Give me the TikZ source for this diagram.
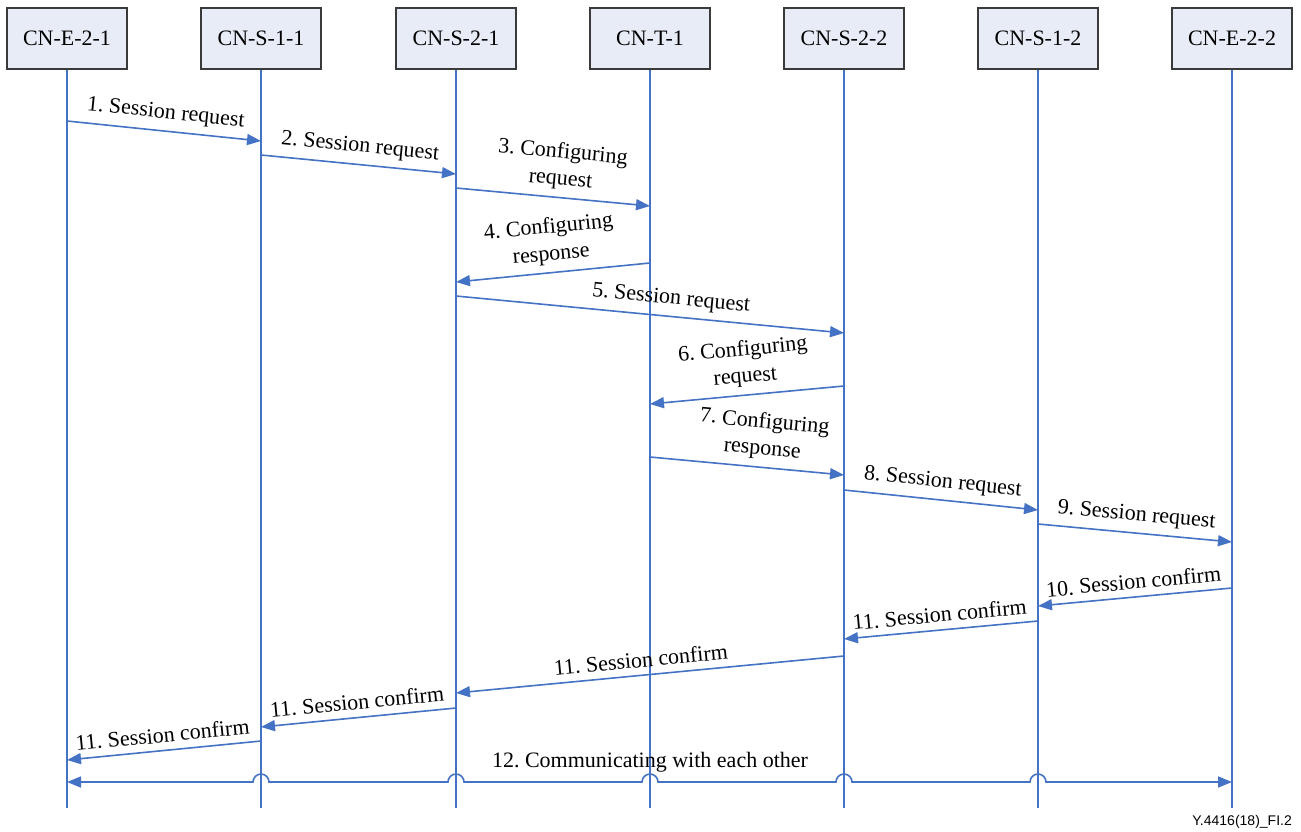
\documentclass[tikz,border=0pt]{standalone}
\usepackage{fontspec}
\setmainfont{Liberation Serif}
\newfontfamily\figsans{Liberation Sans}
\usetikzlibrary{arrows.meta}
\definecolor{msgblue}{HTML}{4472C4}
\definecolor{headfill}{HTML}{E8ECF6}
\definecolor{headdraw}{HTML}{3A3A3A}
\frenchspacing
\begin{document}
\begin{tikzpicture}[x=1pt,y=-1pt,
  every node/.style={font=\fontsize{22}{27}\selectfont},
  head/.style={draw=headdraw,fill=headfill,line width=1.6pt,minimum width=120pt,minimum height=61pt,inner sep=0pt},
  life/.style={draw=msgblue,line width=1.6pt},
  msg/.style={draw=msgblue,line width=1.6pt,-{Triangle[length=14pt,width=11pt]}},
  lbl/.style={sloped,above=7pt,inner sep=0pt,align=center},
]
\useasboundingbox (0,0) rectangle (1301,831);

% entity heads
\node[head] (e21) at (67,38.5) {CN-E-2-1};
\node[head] (s11) at (261,38.5) {CN-S-1-1};
\node[head] (s21) at (456,38.5) {CN-S-2-1};
\node[head] (t1)  at (650,38.5) {CN-T-1};
\node[head] (s22) at (844,38.5) {CN-S-2-2};
\node[head] (s12) at (1038,38.5) {CN-S-1-2};
\node[head] (e22) at (1232,38.5) {CN-E-2-2};

% lifelines
\foreach \n in {e21,s11,s21,t1,s22,s12,e22}{
  \coordinate (\n-end) at (\n.south |- 0,808);
  \draw[life] (\n.south) -- (\n-end);
}

% messages
\draw[msg] (e21 |- 0,121) -- node[lbl] (l1) {1. Session request} (s11 |- 0,141);
\draw[msg] (s11 |- 0,155) -- node[lbl] (l2) {2. Session request} (s21 |- 0,174);
\draw[msg] (s21 |- 0,188) -- node[lbl,pos=0.53] (l3) {3. Configuring\\request} (t1 |- 0,206);
\draw[msg] (t1 |- 0,263) -- node[lbl] (l4) {4. Configuring\\response} (s21 |- 0,282);
\draw[msg] (s21 |- 0,296) -- node[lbl,pos=0.55] (l5) {5. Session request} (s22 |- 0,333);
\draw[msg] (s22 |- 0,386) -- node[lbl] (l6) {6. Configuring\\request} (t1 |- 0,404);
\draw[msg] (t1 |- 0,457) -- node[lbl,pos=0.57] (l7) {7. Configuring\\response} (s22 |- 0,475);
\draw[msg] (s22 |- 0,490) -- node[lbl] (l8) {8. Session request} (s12 |- 0,510);
\draw[msg] (s12 |- 0,524) -- node[lbl] (l9) {9. Session request} (e22 |- 0,542);
\draw[msg] (e22 |- 0,588) -- node[lbl] (l10) {10. Session confirm} (s12 |- 0,606);
\draw[msg] (s12 |- 0,621) -- node[lbl] (l11a) {11. Session confirm} (s22 |- 0,639);
\draw[msg] (s22 |- 0,656) -- node[lbl,pos=0.52] (l11b) {11. Session confirm} (s21 |- 0,693);
\draw[msg] (s21 |- 0,708) -- node[lbl] (l11c) {11. Session confirm} (s11 |- 0,727);
\draw[msg] (s11 |- 0,741) -- node[lbl] (l11d) {11. Session confirm} (e21 |- 0,760);

% two-way link with hops over the inner lifelines
\foreach \n in {s11,s21,t1,s22,s12}{
  \coordinate (\n-hop) at (\n |- 0,782);
}
\draw[life,{Triangle[length=14pt,width=11pt]}-{Triangle[length=14pt,width=11pt]}]
  (e21 |- 0,782)
  -- ([xshift=-8pt]s11-hop) arc[start angle=180,end angle=360,radius=8]
  -- ([xshift=-8pt]s21-hop) arc[start angle=180,end angle=360,radius=8]
  -- ([xshift=-8pt]t1-hop)  arc[start angle=180,end angle=360,radius=8]
  -- ([xshift=-8pt]s22-hop) arc[start angle=180,end angle=360,radius=8]
  -- ([xshift=-8pt]s12-hop) arc[start angle=180,end angle=360,radius=8]
  -- (e22 |- 0,782);
\node[anchor=base] (l12) at (650,767) {12. Communicating with each other};

% figure identifier
\node[font=\figsans\fontsize{14}{16}\selectfont,anchor=base east,inner sep=0pt] (fig) at (1292,825) {Y.4416(18)\_FI.2};
\end{tikzpicture}
\end{document}
